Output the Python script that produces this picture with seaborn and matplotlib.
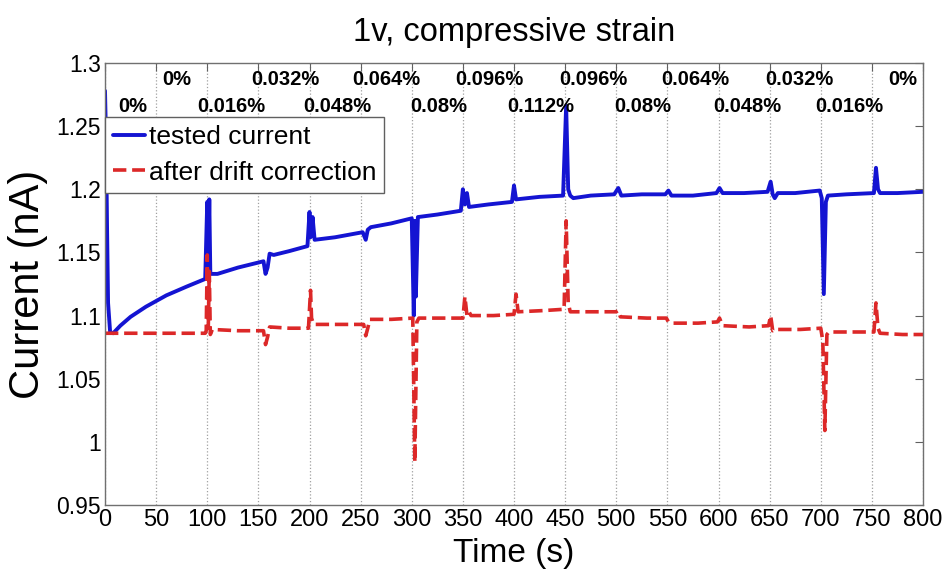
import numpy as np
import pandas as pd
import matplotlib
matplotlib.use("Agg")
import matplotlib.pyplot as plt
import seaborn as sns

# ---------------- data ----------------
blue_t = [0, 1, 2, 3, 5, 8, 15, 25, 40, 60, 80, 98, 100, 101, 102, 103, 110, 130, 150, 155,
          157, 159, 161, 165, 180, 198, 200, 201, 203, 205, 225, 252, 255, 257, 260, 280, 300,
          302, 303, 304, 306, 325, 348, 350, 352, 354, 356, 375, 398, 400, 402, 425, 448, 451,
          453, 455, 458, 475, 498, 502, 505, 525, 548, 551, 554, 575, 598, 601, 604, 625, 648,
          651, 653, 655, 658, 675, 699, 701, 703, 705, 707, 725, 752, 754, 756, 758, 775, 800]
blue_v = [1.278, 1.24, 1.17, 1.11, 1.087, 1.086, 1.092, 1.099, 1.107, 1.116, 1.123, 1.129, 1.190,
          1.140, 1.192, 1.133, 1.133, 1.138, 1.142, 1.143, 1.133, 1.138, 1.149, 1.148, 1.151,
          1.155, 1.182, 1.162, 1.178, 1.160, 1.162, 1.166, 1.160, 1.168, 1.170, 1.173, 1.177,
          1.100, 1.175, 1.115, 1.178, 1.180, 1.183, 1.200, 1.188, 1.197, 1.186, 1.188, 1.190,
          1.203, 1.192, 1.194, 1.195, 1.266, 1.200, 1.195, 1.193, 1.195, 1.196, 1.201, 1.195,
          1.196, 1.196, 1.199, 1.195, 1.195, 1.197, 1.201, 1.197, 1.197, 1.198, 1.206, 1.196,
          1.193, 1.197, 1.197, 1.199, 1.193, 1.117, 1.190, 1.195, 1.196, 1.197, 1.217, 1.200,
          1.197, 1.197, 1.198]

red_t = [0, 50, 98, 99, 100, 101, 102, 103, 105, 130, 155, 157, 159, 161, 180, 199, 201, 202,
         204, 230, 253, 255, 257, 259, 280, 301, 303, 305, 307, 330, 350, 352, 354, 356, 358,
         380, 400, 402, 404, 430, 449, 451, 453, 455, 480, 500, 502, 504, 530, 549, 551, 554,
         580, 599, 601, 604, 630, 649, 651, 653, 655, 680, 700, 702, 704, 706, 708, 730, 752,
         754, 756, 758, 780, 800]
red_v = [1.086, 1.086, 1.086, 1.088, 1.148, 1.090, 1.135, 1.085, 1.089, 1.088, 1.088, 1.077,
         1.083, 1.091, 1.090, 1.090, 1.120, 1.098, 1.093, 1.093, 1.093, 1.084, 1.090, 1.097,
         1.097, 1.098, 0.984, 1.095, 1.098, 1.098, 1.098, 1.115, 1.100, 1.103, 1.100, 1.100,
         1.101, 1.117, 1.103, 1.104, 1.105, 1.175, 1.110, 1.103, 1.103, 1.103, 1.104, 1.099,
         1.098, 1.098, 1.095, 1.094, 1.094, 1.095, 1.098, 1.092, 1.091, 1.092, 1.100, 1.088,
         1.089, 1.089, 1.090, 1.080, 1.009, 1.085, 1.087, 1.087, 1.087, 1.110, 1.090, 1.086,
         1.085, 1.085]

series_names = ["tested current", "after drift correction"]

strain_top = ["0%", "0.032%", "0.064%", "0.096%", "0.096%", "0.064%", "0.032%", "0%"]
strain_top_t = [70, 176, 275, 376, 478, 577, 679, 780]
strain_low = ["0%", "0.016%", "0.048%", "0.08%", "0.112%", "0.08%", "0.048%", "0.016%"]
strain_low_t = [27, 124, 227, 326, 426, 526, 628, 728]

x_ticks = [0, 50, 100, 150, 200, 250, 300, 350, 400, 450, 500, 550, 600, 650, 700, 750, 800]
y_ticks = [0.95, 1.0, 1.05, 1.1, 1.15, 1.2, 1.25, 1.3]
y_ticklabels = ["0.95", "1", "1.05", "1.1", "1.15", "1.2", "1.25", "1.3"]

# ---------------- style ----------------
sns.set_style("white")
FONT = "Liberation Sans"
plt.rcParams["font.family"] = [FONT, "DejaVu Sans"]
plt.rcParams["text.color"] = "black"
plt.rcParams["axes.labelcolor"] = "black"
plt.rcParams["xtick.color"] = "black"
plt.rcParams["ytick.color"] = "black"

fig = plt.figure(figsize=(9.5, 5.8), dpi=100)
ax = fig.add_axes([105 / 950, 1 - 505 / 580, (923 - 105) / 950, (505 - 63) / 580])

df_b = pd.DataFrame({"t": blue_t, "v": blue_v})
df_r = pd.DataFrame({"t": red_t, "v": red_v})
sns.lineplot(data=df_b, x="t", y="v", ax=ax, color="#1414d2", lw=2.8,
             label=series_names[0], estimator=None, sort=False)
sns.lineplot(data=df_r, x="t", y="v", ax=ax, color="#dc2828", lw=2.6,
             linestyle="--", label=series_names[1], estimator=None, sort=False)

ax.set_xlim(0, 800)
ax.set_ylim(0.95, 1.3)
ax.set_xticks(x_ticks)
ax.set_xticklabels([str(v) for v in x_ticks], fontsize=17)
ax.set_yticks(y_ticks)
ax.set_yticklabels(y_ticklabels, fontsize=16.5)
ax.tick_params(direction="in", length=6, width=0.8, color="#606060",
               labelcolor="black", top=True, right=True, pad=3)
ax.xaxis.grid(True, linestyle=":", color="#a0a0a0", lw=0.9)
ax.yaxis.grid(False)
for s in ax.spines.values():
    s.set_color("#707070")
    s.set_linewidth(1.0)

ax.set_xlabel("Time (s)", fontsize=24, labelpad=5)
ax.set_ylabel("Current (nA)", fontsize=30, labelpad=6)
ax.set_title("1v, compressive strain", fontsize=23.5, pad=16)

for lab, t in zip(strain_top, strain_top_t):
    ax.text(t, 1.2873, lab, ha="center", va="center", fontsize=14.5, fontweight="bold")
for lab, t in zip(strain_low, strain_low_t):
    ax.text(t, 1.2652, lab, ha="center", va="center", fontsize=14.5, fontweight="bold")

leg = ax.legend(loc="upper left", bbox_to_anchor=(0.0, 0.878), fontsize=19,
                frameon=True, fancybox=False, framealpha=1, edgecolor="#606060",
                borderpad=0.3, labelspacing=0.45, handlelength=1.2, handletextpad=0.15,
                borderaxespad=0.0)
leg.get_frame().set_linewidth(1.0)

fig.savefig("out.png", dpi=100)
